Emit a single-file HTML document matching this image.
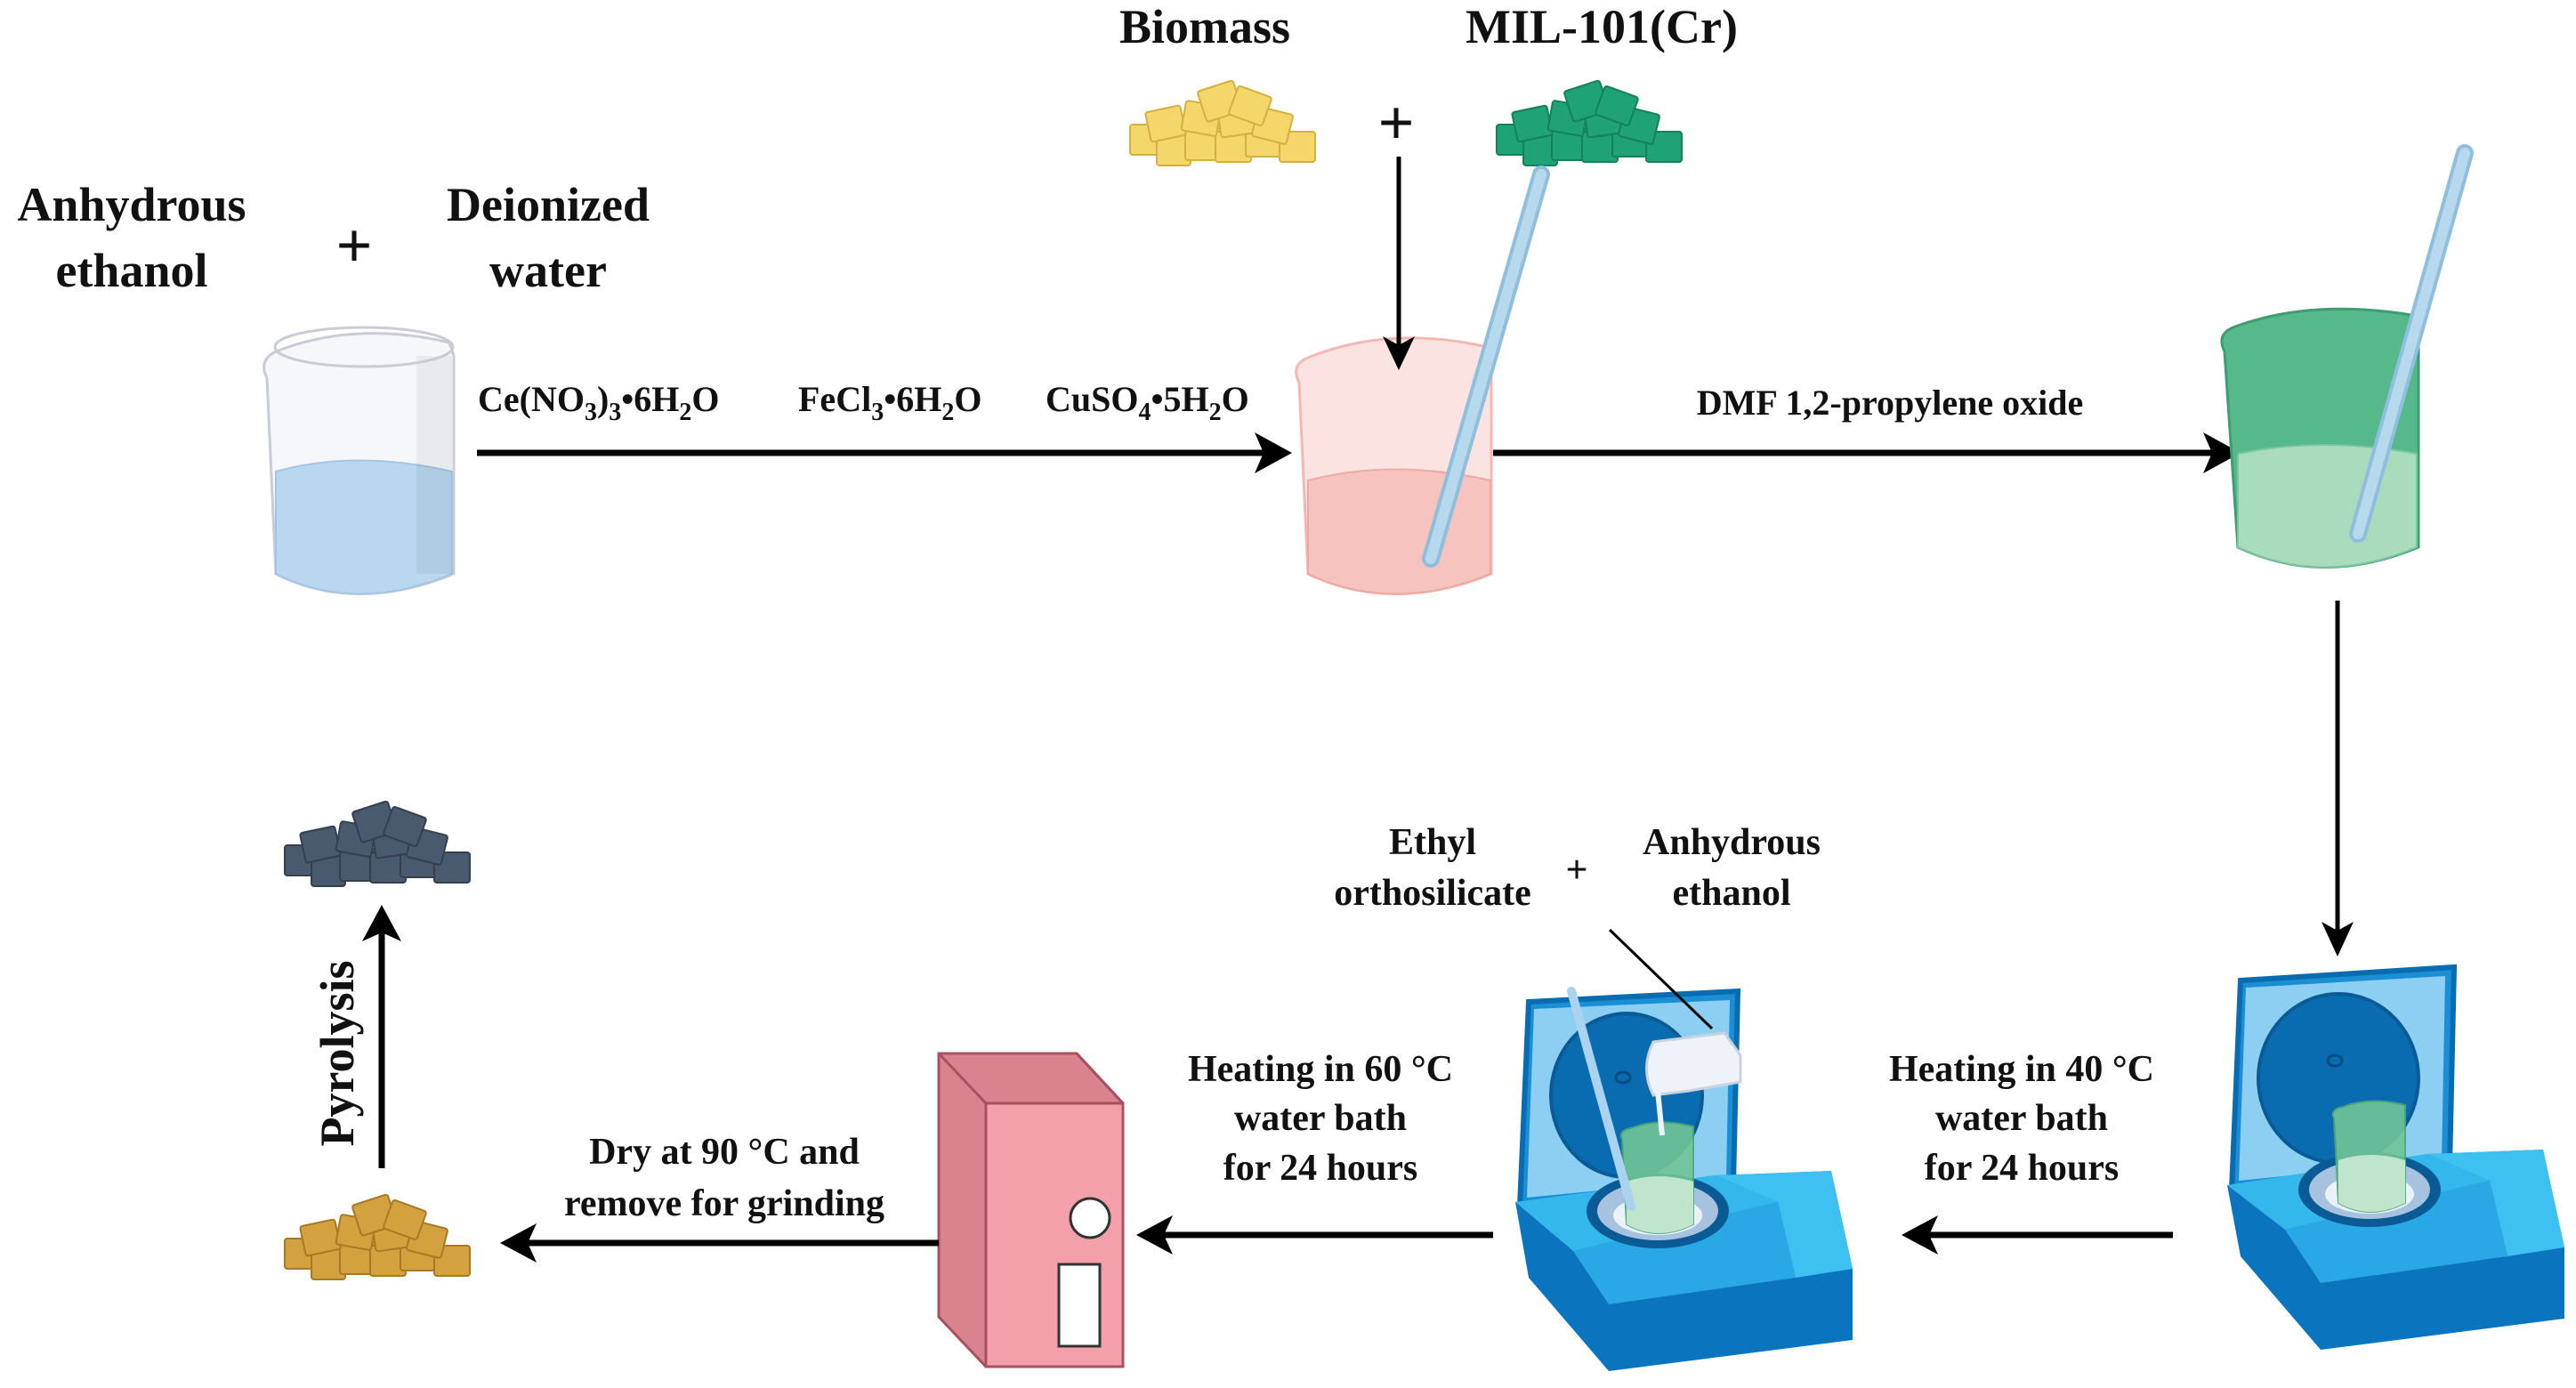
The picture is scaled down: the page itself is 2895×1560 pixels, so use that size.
<!DOCTYPE html>
<html><head><meta charset="utf-8"><style>
html,body{margin:0;padding:0;background:#fff;}
svg{display:block}
text{font-family:"Liberation Serif","Times New Roman",serif;font-weight:bold;fill:#111;}
</style></head><body>
<svg width="2895" height="1560" viewBox="0 0 2895 1560" xmlns="http://www.w3.org/2000/svg" font-family="Liberation Serif, serif">
<defs>
<g id="pile">
<rect x="0" y="30" width="40" height="34" rx="3"/>
<rect x="30" y="40" width="38" height="36" rx="3"/>
<rect x="62" y="34" width="40" height="36" rx="3"/>
<rect x="96" y="38" width="40" height="34" rx="3"/>
<rect x="130" y="30" width="40" height="36" rx="3"/>
<rect x="168" y="38" width="40" height="34" rx="3"/>
<rect x="20" y="12" width="40" height="34" rx="3" transform="rotate(-12 40 29)"/>
<rect x="60" y="6" width="40" height="34" rx="3" transform="rotate(10 80 23)"/>
<rect x="100" y="8" width="40" height="34" rx="3" transform="rotate(-8 120 25)"/>
<rect x="140" y="14" width="40" height="34" rx="3" transform="rotate(14 160 31)"/>
<rect x="80" y="-14" width="42" height="36" rx="3" transform="rotate(-18 100 4)"/>
<rect x="115" y="-8" width="40" height="34" rx="3" transform="rotate(20 135 9)"/>
</g>
</defs>

<text x="148" y="248" font-size="54" text-anchor="middle">Anhydrous</text>
<text x="148" y="322" font-size="54" text-anchor="middle">ethanol</text>
<text x="398" y="300" font-size="72" text-anchor="middle">+</text>
<text x="616" y="248" font-size="54" text-anchor="middle">Deionized</text>
<text x="616" y="322" font-size="54" text-anchor="middle">water</text>

<g>
<path d="M300 425 Q290 405 310 395 Q400 360 505 385 L510 400 L510 645 Q400 690 310 645 Z" fill="#f6f7fa" stroke="#c9ccd4" stroke-width="3"/>
<path d="M310 530 Q400 505 508 530 L508 645 Q400 690 310 645 Z" fill="#b9d7ef" stroke="#a4c6e4" stroke-width="2"/>
<rect x="468" y="400" width="40" height="245" fill="#000" opacity="0.05"/>
<ellipse cx="409" cy="390" rx="100" ry="22" fill="none" stroke="#c9ccd4" stroke-width="3"/>
</g>

<line x1="536" y1="509" x2="1430" y2="509" stroke="#000" stroke-width="7"/>
<path d="M1452 509 L1410 486 L1420 509 L1410 532 Z" fill="#000"/>
<text x="537" y="462" font-size="40">Ce(NO<tspan font-size="28" dy="10">3</tspan><tspan dy="-10">)</tspan><tspan font-size="28" dy="10">3</tspan><tspan dy="-10">•6H</tspan><tspan font-size="28" dy="10">2</tspan><tspan dy="-10">O</tspan></text>
<text x="897" y="462" font-size="40">FeCl<tspan font-size="28" dy="10">3</tspan><tspan dy="-10">•6H</tspan><tspan font-size="28" dy="10">2</tspan><tspan dy="-10">O</tspan></text>
<text x="1175" y="462" font-size="40">CuSO<tspan font-size="28" dy="10">4</tspan><tspan dy="-10">•5H</tspan><tspan font-size="28" dy="10">2</tspan><tspan dy="-10">O</tspan></text>

<text x="1354" y="48" font-size="54" text-anchor="middle">Biomass</text>
<text x="1800" y="48" font-size="54" text-anchor="middle">MIL-101(Cr)</text>
<g fill="#f5d66a" stroke="#d4b040" stroke-width="2" transform="translate(1270,110)"><use href="#pile"/></g>
<g fill="#1fa276" stroke="#15805c" stroke-width="2" transform="translate(1682,110)"><use href="#pile"/></g>
<text x="1569" y="162" font-size="72" text-anchor="middle">+</text>

<path d="M1460 430 Q1450 410 1470 402 Q1560 365 1672 390 L1676 405 L1676 645 Q1565 690 1470 645 Z" fill="#fbe3e2" stroke="#f2b8b4" stroke-width="3"/>
<path d="M1470 540 Q1565 515 1675 540 L1675 645 Q1565 690 1470 645 Z" fill="#f6c3bf" stroke="#eea9a3" stroke-width="2"/>
<line x1="1572" y1="176" x2="1572" y2="392" stroke="#000" stroke-width="5"/>
<path d="M1572 416 L1554 378 L1572 388 L1590 378 Z" fill="#000"/>
<line x1="1732" y1="196" x2="1608" y2="628" stroke="#8fbfdc" stroke-width="20" stroke-linecap="round"/>
<line x1="1732" y1="196" x2="1608" y2="628" stroke="#b7d9ee" stroke-width="12" stroke-linecap="round"/>

<line x1="1678" y1="509" x2="2495" y2="509" stroke="#000" stroke-width="7"/>
<path d="M2518 509 L2476 486 L2486 509 L2476 532 Z" fill="#000"/>
<text x="2124" y="466" font-size="40" text-anchor="middle">DMF  1,2-propylene oxide</text>

<path d="M2500 395 Q2490 375 2512 367 Q2600 335 2716 355 L2718 370 L2718 615 Q2610 660 2515 615 Z" fill="#55b98c" stroke="#3e9d72" stroke-width="3"/>
<path d="M2515 510 Q2610 490 2716 510 L2716 615 Q2610 660 2515 615 Z" fill="#a8dcbd" stroke="#7cc59e" stroke-width="2"/>
<line x1="2770" y1="172" x2="2650" y2="600" stroke="#8fbfdc" stroke-width="20" stroke-linecap="round"/>
<line x1="2770" y1="172" x2="2650" y2="600" stroke="#b7d9ee" stroke-width="12" stroke-linecap="round"/>

<line x1="2627" y1="675" x2="2627" y2="1050" stroke="#000" stroke-width="5"/>
<path d="M2627 1075 L2609 1036 L2627 1046 L2645 1036 Z" fill="#000"/>

<g transform="translate(2498,1082)">
<path d="M20 20 L260 5 L255 230 L10 255 Z" fill="#1a8fd6" stroke="#0a6cb0" stroke-width="6"/>
<path d="M26 28 L250 15 L246 222 L18 245 Z" fill="#8ccff3"/>
<ellipse cx="130" cy="130" rx="90" ry="95" fill="#0a6cb0" stroke="#0a5a96" stroke-width="4"/>
<ellipse cx="126" cy="110" rx="8" ry="6" fill="none" stroke="#064c80" stroke-width="3"/>
<path d="M5 250 L230 215 L360 210 L384 320 L384 400 L110 435 L20 330 Z" fill="#0a74bf"/>
<path d="M5 250 L230 215 L300 245 L70 300 Z" fill="#34b8ec"/>
<path d="M230 215 L360 210 L384 320 L320 330 L300 245 Z" fill="#3ec1f0"/>
<path d="M70 300 L300 245 L320 330 L110 360 Z" fill="#2aa8e5"/>
<ellipse cx="165" cy="255" rx="80" ry="42" fill="#0a5a96"/>
<ellipse cx="165" cy="255" rx="68" ry="33" fill="#a7c2de"/>
<ellipse cx="165" cy="260" rx="50" ry="22" fill="#eaf2f8"/>
<path d="M125 175 Q120 165 135 162 Q165 150 205 160 L205 270 Q165 290 130 270 Z" fill="#71c596" opacity="0.9" stroke="#4ea877" stroke-width="2"/>
<path d="M130 222 Q165 210 205 222 L205 270 Q165 290 130 270 Z" fill="#bfe6cd"/>
</g>

<line x1="2442" y1="1388" x2="2160" y2="1388" stroke="#000" stroke-width="7"/>
<path d="M2137 1388 L2178 1366 L2168 1388 L2178 1410 Z" fill="#000"/>
<text x="2272" y="1215" font-size="42" text-anchor="middle">Heating in 40 °C</text>
<text x="2272" y="1270" font-size="42" text-anchor="middle">water bath</text>
<text x="2272" y="1326" font-size="42" text-anchor="middle">for 24 hours</text>

<g transform="translate(1698,1106)">
<path d="M20 20 L255 8 L250 225 L10 250 Z" fill="#1a8fd6" stroke="#0a6cb0" stroke-width="6"/>
<path d="M26 28 L246 18 L242 218 L18 240 Z" fill="#8ccff3"/>
<ellipse cx="130" cy="125" rx="85" ry="92" fill="#0a6cb0" stroke="#0a5a96" stroke-width="4"/>
<ellipse cx="126" cy="105" rx="8" ry="6" fill="none" stroke="#064c80" stroke-width="3"/>
<path d="M5 245 L230 215 L360 210 L384 320 L384 400 L110 435 L20 330 Z" fill="#0a74bf"/>
<path d="M5 245 L230 215 L300 245 L70 300 Z" fill="#34b8ec"/>
<path d="M230 215 L360 210 L384 320 L320 330 L300 245 Z" fill="#3ec1f0"/>
<path d="M70 300 L300 245 L320 330 L110 360 Z" fill="#2aa8e5"/>
<ellipse cx="165" cy="255" rx="80" ry="42" fill="#0a5a96"/>
<ellipse cx="165" cy="255" rx="68" ry="33" fill="#a7c2de"/>
<ellipse cx="165" cy="260" rx="50" ry="22" fill="#eaf2f8"/>
<path d="M125 175 Q120 165 135 162 Q165 150 205 160 L205 270 Q165 290 130 270 Z" fill="#71c596" opacity="0.9" stroke="#4ea877" stroke-width="2"/>
<path d="M130 222 Q165 210 205 222 L205 270 Q165 290 130 270 Z" fill="#bfe6cd"/>
<line x1="68" y1="8" x2="135" y2="250" stroke="#a9d3ee" stroke-width="10" stroke-linecap="round"/>
<path d="M160 65 L240 55 L258 80 L258 110 L200 120 L160 125 Q145 95 160 65 Z" fill="#eef3fa" stroke="#c8d3e0" stroke-width="3"/>
<path d="M165 120 L170 170" stroke="#eef3fa" stroke-width="6"/>
</g>
<line x1="1809" y1="1045" x2="1924" y2="1156" stroke="#000" stroke-width="3"/>
<text x="1610" y="960" font-size="42" text-anchor="middle">Ethyl</text>
<text x="1610" y="1017" font-size="42" text-anchor="middle">orthosilicate</text>
<text x="1772" y="992" font-size="44" text-anchor="middle" font-weight="normal">+</text>
<text x="1946" y="960" font-size="42" text-anchor="middle">Anhydrous</text>
<text x="1946" y="1017" font-size="42" text-anchor="middle">ethanol</text>

<line x1="1678" y1="1388" x2="1300" y2="1388" stroke="#000" stroke-width="7"/>
<path d="M1277 1388 L1318 1366 L1308 1388 L1318 1410 Z" fill="#000"/>
<text x="1484" y="1215" font-size="42" text-anchor="middle">Heating in 60 °C</text>
<text x="1484" y="1270" font-size="42" text-anchor="middle">water bath</text>
<text x="1484" y="1326" font-size="42" text-anchor="middle">for 24 hours</text>

<path d="M1055 1184 L1210 1184 L1262 1240 L1262 1536 L1108 1536 L1055 1480 Z" fill="#d9838f" stroke="#a8505f" stroke-width="3"/>
<rect x="1108" y="1240" width="154" height="296" fill="#f4a0aa" stroke="#a8505f" stroke-width="3"/>
<path d="M1055 1184 L1108 1240 M1210 1184 L1262 1240" stroke="#a8505f" stroke-width="3"/>
<circle cx="1225" cy="1369" r="22" fill="#fff" stroke="#333" stroke-width="3"/>
<rect x="1190" y="1421" width="46" height="92" fill="#fff" stroke="#333" stroke-width="3"/>

<line x1="1055" y1="1397" x2="585" y2="1397" stroke="#000" stroke-width="7"/>
<path d="M562 1397 L603 1375 L593 1397 L603 1419 Z" fill="#000"/>
<text x="814" y="1308" font-size="42" text-anchor="middle">Dry at 90 °C and</text>
<text x="814" y="1366" font-size="42" text-anchor="middle">remove for grinding</text>

<g fill="#d3a23e" stroke="#a87a25" stroke-width="2" transform="translate(320,1362)"><use href="#pile"/></g>
<g fill="#4a5a6e" stroke="#34404f" stroke-width="2" transform="translate(320,920)"><use href="#pile"/></g>
<line x1="429" y1="1313" x2="429" y2="1040" stroke="#000" stroke-width="7"/>
<path d="M429 1017 L407 1058 L429 1048 L451 1058 Z" fill="#000"/>
<text transform="translate(397,1184) rotate(-90)" font-size="54" text-anchor="middle">Pyrolysis</text>
</svg>
</body></html>
